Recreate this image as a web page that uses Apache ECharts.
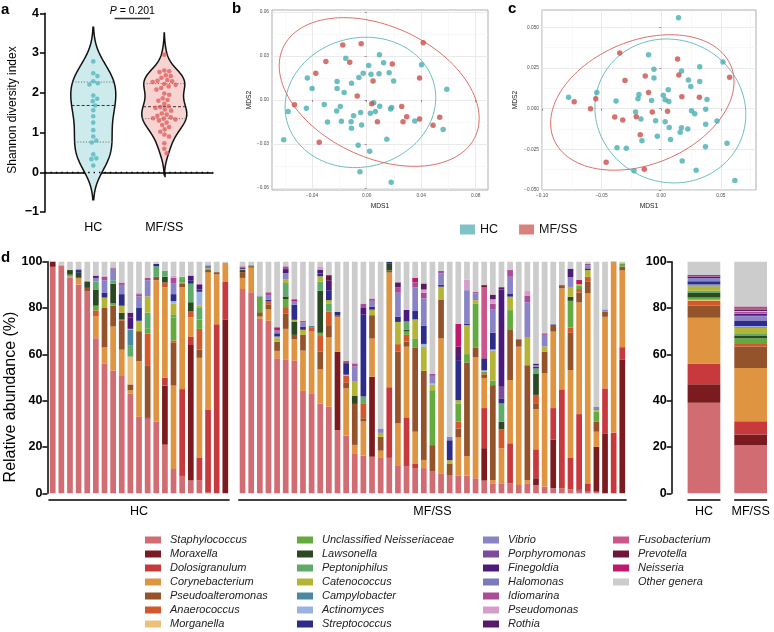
<!DOCTYPE html>
<html><head><meta charset="utf-8">
<script src="https://cdn.jsdelivr.net/npm/echarts@6/dist/echarts.min.js"></script>
<style>html,body{margin:0;padding:0;background:#fff}#c{width:774px;height:632px}</style>
</head><body><div id="c"></div>
<script>
// ---------------- DATA ----------------
const groupLabels = ['HC', 'MF/SS'];
// Panel a: Shannon diversity index per sample
const hcShannon = [2.79, 2.49, 2.42, 2.29, 2.24, 2.21, 1.93, 1.85, 1.79, 1.68, 1.56, 1.41, 1.25, 1.06, 0.90, 0.80, 0.75, 0.45, 0.35, 0.33, 0.17];
const mfShannon = [2.96, 2.56, 2.54, 2.52, 2.44, 2.42, 2.38, 2.32, 2.30, 2.29, 2.27, 2.22, 2.20, 2.16, 2.12, 2.08, 1.98, 1.95, 1.86, 1.82, 1.80, 1.72, 1.66, 1.64, 1.62, 1.58, 1.55, 1.48, 1.45, 1.42, 1.38, 1.36, 1.35, 1.33, 1.30, 1.25, 1.19, 1.14, 1.08, 1.02, 0.95, 0.90, 0.73, 0.59, 0.48];
const hcQuartiles = [0.76, 1.68, 2.27];
const mfQuartiles = [1.35, 1.65, 2.23];
const aTicksY = [-1, 0, 1, 2, 3, 4];
const pValueText = 'P = 0.201';

// Panel b: MDS coordinates
const mdsB_HC = [[-0.0153,0.0284],[0.0094,0.0309],[0.0124,0.0254],[0.0015,0.0236],[0.0403,0.0241],[-0.0435,0.0150],[-0.0025,0.0182],[-0.0057,0.0154],[0.0032,0.0175],[0.0091,0.0179],[0.0165,0.0186],[0.0198,0.0129],[-0.0217,0.0127],[-0.0111,0.0114],[-0.0217,0.0079],[-0.0400,0.0079],[-0.0165,0.0052],[0.0588,0.0073],[-0.0576,-0.0079],[-0.0442,-0.0057],[-0.0311,-0.0030],[-0.0193,-0.0045],[-0.0220,-0.0075],[0.0052,-0.0018],[0.0096,-0.0043],[0.0183,-0.0052],[0.0175,-0.0061],[-0.0044,-0.0086],[-0.0096,-0.0107],[0.0027,-0.0091],[0.0064,-0.0079],[-0.0287,-0.0150],[-0.0185,-0.0145],[-0.0114,-0.0148],[-0.0037,-0.0170],[-0.0111,-0.0193],[0.0353,-0.0143],[0.0561,-0.0202],[-0.0608,-0.0272],[0.0148,-0.0268],[-0.0062,-0.0309],[0.0022,-0.0350],[-0.0049,-0.0490],[0.0180,-0.0561]];
const mdsB_MF = [[-0.0175,0.0375],[-0.0040,0.0384],[0.0415,0.0390],[-0.0299,0.0263],[-0.0124,0.0257],[0.0188,0.0245],[-0.0373,0.0182],[0.0388,0.0150],[0.0047,0.0129],[-0.0069,0.0027],[-0.0529,-0.0032],[0.0037,-0.0025],[0.0257,-0.0045],[0.0294,-0.0114],[0.0267,-0.0148],[0.0079,-0.0148],[0.0388,-0.0129],[0.0536,-0.0118],[0.0487,-0.0173],[-0.0348,-0.0288]];
const bTicksX = [-0.04, 0, 0.04, 0.08];
const bTicksY = [-0.06, -0.03, 0, 0.03, 0.06];
const bMinorX = [-0.06, -0.02, 0.02, 0.06];
const bMinorY = [-0.045, -0.015, 0.015, 0.045];

// Panel c: MDS coordinates
const mdsC_HC = [[0.0145,0.0559],[-0.0106,0.0332],[0.0518,0.0287],[-0.0061,0.0242],[0.0170,0.0232],[0.0323,0.0258],[-0.0061,0.0189],[0.0228,0.0176],[0.0248,0.0137],[0.0323,0.0168],[-0.0777,0.0070],[-0.0540,0.0100],[-0.0379,0.0047],[-0.0187,0.0088],[-0.0195,0.0061],[-0.0081,0.0051],[0.0017,0.0082],[0.0059,0.0117],[0.0033,0.0055],[0.0064,0.0045],[0.0384,0.0057],[0.0373,-0.0004],[0.0254,-0.0012],[0.0281,-0.0031],[-0.0215,-0.0020],[-0.0170,-0.0064],[-0.0047,-0.0074],[0.0033,-0.0080],[0.0067,-0.0115],[0.0170,-0.0117],[0.0223,-0.0125],[0.0159,-0.0145],[0.0373,-0.0096],[0.0468,-0.0076],[-0.0033,-0.0170],[-0.0162,-0.0197],[0.0078,-0.0189],[-0.0371,-0.0240],[-0.0293,-0.0244],[0.0371,-0.0234],[0.0552,-0.0213],[0.0176,-0.0322],[-0.0228,-0.0381],[0.0293,-0.0379],[0.0618,-0.0441]];
const mdsC_MF = [[-0.0348,0.0342],[0.0137,0.0305],[-0.0304,0.0174],[-0.0134,0.0201],[0.0148,0.0207],[0.0574,0.0193],[-0.0730,0.0043],[-0.0549,0.0061],[-0.0593,0.0000],[-0.0106,0.0100],[-0.0390,-0.0051],[-0.0323,-0.0070],[-0.0209,-0.0049],[-0.0075,-0.0020],[0.0053,-0.0016],[0.0173,0.0074],[0.0320,0.0070],[-0.0176,-0.0160],[-0.0462,-0.0330],[-0.0142,-0.0373]];
const cTicksX = [-0.10, -0.05, 0, 0.05];
const cTicksY = [-0.05, -0.025, 0, 0.025, 0.05];
const cMinorX = [-0.075, -0.025, 0.025, 0.075];
const cMinorY = [-0.0375, -0.0125, 0.0125, 0.0375];

// Panel d: genera (stack order bottom -> top) and per-sample relative abundances (%)
const genusCodes = ['St','Mo','Do','Co','Ps','An','Mg','UN','La','Pe','Ca','Cb','Ac','Sr','Vi','Po','Fi','Ha','Id','Pm','Ro','Fu','Pr','Ne','Ot'];
const genusNames = ['Staphylococcus','Moraxella','Dolosigranulum','Corynebacterium','Pseudoalteromonas','Anaerococcus','Morganella','Unclassified Neisseriaceae','Lawsonella','Peptoniphilus','Catenococcus','Campylobacter','Actinomyces','Streptococcus','Vibrio','Porphyromonas','Finegoldia','Halomonas','Idiomarina','Pseudomonas','Rothia','Fusobacterium','Prevotella','Neisseria','Other genera'];
const genusColors = ['#d16c72','#7b1a1f','#c8393d','#df9441','#94532a','#d3592b','#ecbf7c','#63ab3f','#2b4a24','#5fac6a','#b4b537','#4b88a4','#98b2e1','#2d2c88','#8884c6','#7d4b9b','#4c1a7d','#7c7abd','#aa4c98','#d49ec9','#5a1969','#c9578b','#73163d','#c1176d','#cccccc'];
const hcSamples = [
 "St 97.8 Mo 2.2",
 "St 98.3 Co 0.4 Ot 1.3",
 "St 93 Co 0.6 UN 0.8 La 2 Ot 3.6",
 "St 90.2 Co 2.6 Ps 0.6 La 1.8 Sr 1.2 Vi 0.4 Ot 3.2",
 "St 87.2 Ps 1.5 La 2.6 Vi 0.4 Ot 8.3",
 "St 67 Co 9.5 An 2.5 UN 2 La 7 Pe 3.5 Vi 1.5 Fi 1 Ot 6",
 "St 56 Co 7 Ps 17 Ca 4.5 Sr 2 Vi 5.5 Id 1.5 Pm 0.5 Ot 6",
 "St 53 Co 19 Ps 9 UN 1 La 8.5 Pe 1.5 Vi 5 Id 0.5 Ot 2.5",
 "St 51 Co 11 Ps 12.5 An 0.5 La 3 Ca 3 Sr 5 Vi 4 Id 1 Ot 9",
 "St 43 Co 1.5 Ps 2.5 Mg 12 Pe 5 Cb 6.5 Ac 0.5 Fi 5 Ro 2 Ot 22",
 "St 33 Co 24 Ps 13 Ca 4.5 Sr 5.5 Vi 5 Id 1 Pm 0.5 Ot 13.5",
 "St 32.3 Mo 0.5 Ps 22.5 An 13.7 UN 2 Pe 7 Ca 7 Vi 7 Id 1 Ot 7",
 "St 31 Co 61 Ps 1.5 Pe 4.5 Sr 1 Ot 1",
 "St 21 Mo 25.5 Do 3.5 Co 39 An 2 La 2.5 Pe 2.5 Ot 4",
 "St 10.5 Co 36 Ps 18.5 An 1 UN 10 Pe 1 Ca 5 Ac 1 Sr 3 Vi 4.5 Id 2.5 Pm 1 Ot 6",
 "St 7.5 Do 37.5 Co 44 Ps 1.5 An 0.5 UN 1.5 Pe 0.5 Vi 0.5 Ot 6.5",
 "St 5.5 Mo 58.5 Do 3.5 Co 8.5 An 2.5 La 4 Pe 8 Sr 1.5 Fi 2 Ot 6",
 "St 5.5 Do 10 Co 43 Ps 3.5 An 9 UN 4 Pe 5 Ca 1 Ac 6 Sr 1 Fi 2 Id 0.5 Ot 9.5",
 "St 0.3 Do 35.7 Co 59.5 Ps 1 UN 0.5 Pe 0.5 Sr 0.5 Vi 0.5 Ot 1.5",
 "Do 73 Co 21.5 Ps 1 Ot 4.5",
 "Mo 75 Do 16.5 Co 8 Ot 0.5"
];
const mfSamples = [
 "St 88.2 Co 4.8 Ps 2.5 La 0.9 Ca 0.5 Fi 0.5 Id 0.6 Ot 2",
 "St 86.8 Co 10.6 Ps 0.6 La 0.4 Ot 1.6",
 "St 75.3 Co 1 Ps 1.9 UN 6.8 Vi 0.4 Ot 14.6",
 "St 74.5 Co 4.9 Ps 2.2 An 1.4 Sr 0.6 Vi 2 Id 1.2 Ot 13.2",
 "St 58.3 Co 3.2 Ps 3.9 Ca 1.6 Ac 0.7 Sr 1.4 Vi 1.2 Ne 1.4 Ot 28.3",
 "St 57.6 Co 13.4 Ps 6.5 An 2.9 UN 3.5 La 1.1 Pe 5.8 Ca 1.7 Vi 2.6 Fi 1.7 Id 1.2 Ot 2",
 "St 57.3 Co 9.2 Ps 1.9 La 5.8 Ca 0.7 Sr 6.5 Vi 1.4 Ne 1 Ot 16.2",
 "St 44.2 Co 17.4 Ps 6.8 Ca 2.2 Sr 1.4 Vi 1.7 Id 0.8 Ot 25.5",
 "St 43.2 Co 26.6 An 1.9 Cb 0.6 Ot 27.7",
 "St 38.8 Co 14.7 Ps 7.6 An 6.8 UN 1.4 La 18.1 Pe 3.9 Ca 2.4 Sr 1.2 Fi 1.7 Pm 1.4 Ot 2",
 "St 37.4 Co 29.9 Ps 5.3 An 5.8 Pe 3.6 Ca 1.4 Sr 4.3 Fi 4.3 Pr 2.2 Ot 5.8",
 "St 27.3 Mo 33.8 Co 15.1 Ps 0.7 Sr 1.4 Ot 21.7",
 "St 24.9 Co 20.4 Ps 2.4 An 3 Sr 5 Ac 0.5 Id 1 Ot 42.8",
 "St 17.3 Co 3.6 Ps 17.7 La 3.6 Ca 6 Vi 6.5 Id 1.4 Ot 43.9",
 "St 16.3 Co 14.7 Ps 1.4 An 6.5 Pe 2.9 Sr 35.3 Fi 2.9 Id 1.9 Ot 18.1",
 "St 15.8 Mo 34.5 Co 16.5 Ps 10.1 Ca 2.4 Sr 1.2 Vi 2.6 Id 1 Ot 15.9",
 "St 15.3 Co 3.1 Ps 6 Ca 1.7 Vi 1.9 Ot 72",
 "St 15.3 Do 30.5 Co 49.5 Ps 0.9 La 2.9 Sr 0.8 Ot 0.1",
 "St 11.8 Co 18.4 Ps 30.9 An 3.3 Ca 9.6 Sr 2.2 Vi 10.4 Id 2.3 Ro 2.2 Ot 8.9",
 "St 11.8 Do 21 Co 30.5 Ps 2.2 An 2.9 UN 1.5 La 0.7 Pe 3.6 Fi 5 Ot 20.8",
 "St 10.9 Do 2 Co 13.7 Ps 36.4 UN 3.9 Ca 8.2 Sr 3.6 Vi 10.2 Id 2.2 Ne 2 Ot 6.9",
 "St 10.9 Co 3.5 Ps 38.1 La 0.4 Ca 10.4 Ac 1.2 Sr 7.8 Vi 11.9 Id 2.4 Pm 1.4 Ro 2.6 Ot 9.4",
 "St 9.6 Ps 11.2 UN 23.7 Ca 2.4 Ac 0.5 Vi 3.3 Id 0.8 Ot 48.5",
 "St 8.6 Co 58.3 Ps 16.8 Ca 5.5 Sr 0.9 Vi 4.9 Id 1 Ot 4",
 "St 7.9 Ps 5 Ca 1.4 Sr 8.6 Vi 1.4 Ot 75.7",
 "St 7.6 Co 16.5 Ps 3.9 An 2.9 UN 7.9 Ca 1.4 Sr 17.3 Fi 2.2 Ro 3.6 Ne 9.8 Ot 26.9",
 "St 7.6 Co 8.5 Ps 40.4 UN 3.6 Ca 12.5 Sr 0.7 Vi 14.4 Pm 4.6 Ot 7.7",
 "St 6.5 Co 52.2 Ps 4.3 UN 19 Ca 1.4 Vi 2.9 Id 0.6 Ot 13.1",
 "St 5.5 Mo 14 Do 17.3 Co 13 Ps 1.4 An 0.7 UN 0.7 Ac 0.5 Sr 5.2 Fu 30.6 Pr 1 Ot 10.1",
 "St 4.3 Co 1.4 Ps 41 UN 2 Ca 12.9 Ac 0.5 Sr 7.2 Vi 10 Id 2.5 Pm 2 Ro 2 Ot 14.2",
 "St 4.3 Co 15.1 An 8.2 La 3.3 Pe 7.9 Sr 2.2 Po 5 Fi 42 Ro 1 Ot 11",
 "St 4.3 Do 17.3 Co 27.3 Ps 21.6 UN 8.6 Ca 5.8 Sr 1.4 Vi 7.2 Id 2.9 Ot 3.6",
 "St 3.6 Co 59.7 Ps 2.9 Vi 0.5 Ot 33.3",
 "St 4.3 Co 1.4 Ps 49.6 Ca 12.2 Vi 15 Id 2.9 Pm 2.2 Ot 12.4",
 "St 3.6 Mo 2.9 Do 12.5 Co 17.3 Ps 2.6 An 3.6 La 9 Pe 2.4 Sr 0.7 Vi 0.7 Fi 0.7 Ot 44",
 "St 2.9 Co 48.9 Ps 9.4 Ca 2.2 Vi 5 Id 0.7 Ot 30.9",
 "St 2.2 Mo 20.9 Do 13.7 Co 33 Ps 2.9 Vi 0.5 Ot 26.8",
 "St 2.2 Do 42.7 Co 43.6 Ps 1.4 Ot 10.1",
 "St 1.7 Do 13.8 Co 37.7 Ps 16.1 An 2.3 UN 11.5 La 1.7 Ca 4.3 Vi 4.3 Fi 3.6 Ot 3",
 "St 1.2 Mo 0.5 Do 32.5 Co 48.2 Ps 4.3 An 1.5 UN 1.4 Ca 0.7 Ne 1.9 Ot 7.8",
 "St 0.7 Do 3.6 Co 82 Ps 5 An 2.2 Ca 2.9 Sr 0.7 Vi 1.4 Id 0.7 Ot 0.8",
 "St 0.7 Mo 19.4 Co 6.5 Ps 4.3 UN 4.3 Ca 0.7 Vi 1.4 Ot 62.7",
 "Mo 25.9 Do 19.4 Co 30.9 Ps 2.2 Vi 1 Ot 20.6",
 "Do 26.2 Co 73.5 Ps 0.3",
 "Mo 57.6 Do 5.5 Co 33.1 Ps 1.7 UN 1.4 Ot 0.7"
];
const hcMean = "St 39.1 Mo 8 Do 8.9 Co 19.8 Ps 5.3 An 1.9 Mg 0.6 UN 0.9 La 2 Pe 1 Ca 1.9 Cb 0.4 Ac 0.4 Sr 1.4 Vi 1.4 Fi 0.5 Id 0.4 Ro 0.4 Ot 5.7";
const mfMean = "St 20.7 Mo 4.7 Do 5.7 Co 23 Ps 9.3 An 1.1 UN 2.4 La 1 Pe 0.9 Ca 2.7 Cb 0.3 Ac 0.4 Sr 2.2 Vi 2 Po 0.3 Fi 0.7 Ha 0.3 Id 0.7 Pm 0.3 Ro 0.4 Fu 0.7 Pr 0.3 Ne 0.6 Ot 19.3";
const dTicksY = [0, 20, 40, 60, 80, 100];

// ---------------- HELPERS ----------------
const FONT = 'Liberation Sans';
function parseSample(s) { const t = s.trim().split(/\s+/); const o = {}; for (let i = 0; i < t.length; i += 2) o[t[i]] = +t[i + 1]; return o; }
const hcParsed = hcSamples.map(parseSample), mfParsed = mfSamples.map(parseSample);
const hcMeanP = parseSample(hcMean), mfMeanP = parseSample(mfMean);
const categoriesD = hcSamples.map((_, i) => 'HC' + (i + 1)).concat(['gap'], mfSamples.map((_, i) => 'MF' + (i + 1)));
function valuesFor(code) { return hcParsed.map(o => o[code] || 0).concat(['-'], mfParsed.map(o => o[code] || 0)); }
const minus = s => String(s).replace('-', '\u2212');

function stats(v) { const n = v.length, m = v.reduce((a, b) => a + b, 0) / n; const sd = Math.sqrt(v.reduce((a, b) => a + (b - m) * (b - m), 0) / (n - 1)); return { n, m, sd }; }
function bandwidth(v, iqr) { const s = stats(v); return 0.9 * Math.min(s.sd, iqr / 1.34) * Math.pow(s.n, -0.2); }
function kde(v, h, y) { let s = 0; for (const x of v) { const z = (y - x) / h; s += Math.exp(-0.5 * z * z); } return s / (v.length * h); }

// robust multivariate-t covariance (as MASS::cov.trob, nu = 5), used by ggplot2 stat_ellipse(type = "t")
function covTrob(pts, nu) {
  const n = pts.length, p = 2;
  let loc = [pts.reduce((a, q) => a + q[0], 0) / n, pts.reduce((a, q) => a + q[1], 0) / n];
  let w = pts.map(() => 1), X = [];
  for (let it = 0; it < 200; it++) {
    const w0 = w.slice();
    X = pts.map(q => [q[0] - loc[0], q[1] - loc[1]]);
    const sw = w.reduce((a, b) => a + b, 0);
    let sxx = 0, syy = 0, sxy = 0;
    X.forEach((d, i) => { sxx += w[i] * d[0] * d[0]; syy += w[i] * d[1] * d[1]; sxy += w[i] * d[0] * d[1]; });
    sxx /= sw; syy /= sw; sxy /= sw;
    const det = sxx * syy - sxy * sxy;
    const Q = X.map(d => (syy * d[0] * d[0] - 2 * sxy * d[0] * d[1] + sxx * d[1] * d[1]) / det);
    w = Q.map(q => (nu + p) / (nu + q));
    const sw2 = w.reduce((a, b) => a + b, 0);
    loc = [pts.reduce((a, q, i) => a + w[i] * q[0], 0) / sw2, pts.reduce((a, q, i) => a + w[i] * q[1], 0) / sw2];
    if (w.every((v, i) => Math.abs(v - w0[i]) < 1e-6)) break;
  }
  let sxx = 0, syy = 0, sxy = 0;
  X.forEach((d, i) => { sxx += w[i] * d[0] * d[0]; syy += w[i] * d[1] * d[1]; sxy += w[i] * d[0] * d[1]; });
  return { center: loc, sxx: sxx / n, syy: syy / n, sxy: sxy / n };
}
function ellipse(pts, level) {
  const n = pts.length; const cv = covTrob(pts, 5);
  const m = n - 1; const q = (m / 2) * (Math.pow(1 - level, -2 / m) - 1); const r = Math.sqrt(2 * q);
  const a = Math.sqrt(cv.sxx), b = cv.sxy / a, c = Math.sqrt(cv.syy - b * b);
  const out = []; for (let i = 0; i <= 120; i++) { const t = 2 * Math.PI * i / 120; out.push([cv.center[0] + r * a * Math.cos(t), cv.center[1] + r * (b * Math.cos(t) + c * Math.sin(t))]); }
  return out;
}

// panel a geometry
const A = { left: 45, top: 13.3, width: 168, height: 198.7, xmin: 0.32, xmax: 2.686, ymin: -1, ymax: 4 };
const sxA = A.width / (A.xmax - A.xmin), syA = A.height / (A.ymax - A.ymin);
function swarm(vals, cx, d) {
  const placed = [], res = new Array(vals.length);
  const order = vals.map((v, i) => i).sort((a, b) => vals[b] - vals[a]);
  for (const i of order) {
    const y = vals[i] * syA; const near = placed.filter(p => Math.abs(p.y - y) < d);
    const cands = [0]; near.forEach(p => { const dx = Math.sqrt(d * d - (p.y - y) ** 2); cands.push(p.x + dx + 0.01, p.x - dx - 0.01); });
    cands.sort((a, b) => Math.abs(a) - Math.abs(b));
    let x = 0; for (const c of cands) { if (near.every(p => (p.x - c) ** 2 + (p.y - y) ** 2 >= d * d - 0.01)) { x = c; break; } }
    placed.push({ x, y }); res[i] = [cx + x / sxA, vals[i]];
  }
  return res;
}
const violinGroups = [
  { x: 1, vals: hcShannon, q: hcQuartiles, fill: '#cdebed' },
  { x: 2, vals: mfShannon, q: mfQuartiles, fill: '#f7d4d2' }
];
const VIOLIN_HALF = 0.317;

function renderViolin(params, api) {
  const g = violinGroups[params.dataIndex];
  const h = bandwidth(g.vals, g.q[2] - g.q[0]);
  const lo = Math.min(...g.vals) - 2.2 * h, hi = Math.max(...g.vals) + 2.2 * h;
  const N = 160, ys = [], ds = [];
  for (let i = 0; i <= N; i++) { const y = lo + (hi - lo) * i / N; ys.push(y); ds.push(kde(g.vals, h, y)); }
  const dmax = Math.max(...ds);
  const right = [], left = [];
  ys.forEach((y, i) => { const w = VIOLIN_HALF * ds[i] / dmax; right.push(api.coord([g.x + w, y])); left.push(api.coord([g.x - w, y])); });
  const children = [{ type: 'polygon', shape: { points: right.concat(left.reverse()) }, style: { fill: g.fill, stroke: '#111', lineWidth: 1.5 } }];
  g.q.forEach((q, k) => {
    const w = VIOLIN_HALF * kde(g.vals, h, q) / dmax;
    const p1 = api.coord([g.x - w, q]), p2 = api.coord([g.x + w, q]);
    children.push({ type: 'line', shape: { x1: p1[0], y1: p1[1], x2: p2[0], y2: p2[1] }, style: k === 1 ? { stroke: '#333', lineWidth: 1, lineDash: [3, 2] } : { stroke: '#777', lineWidth: 1, lineDash: [1.2, 1.6] } });
  });
  return { type: 'group', children };
}

// ---------------- OPTION ----------------
const TEAL = '#49aeb3', RED = '#cc4f48';
const ggAxisLabel = { fontSize: 4.8, color: '#4d4d4d', margin: 3, fontFamily: FONT };
function ggX(grid, min, max, ticks, fmt, name) {
  return { gridIndex: grid, type: 'value', min, max, axisLine: { show: false },
    axisTick: { show: true, customValues: ticks, length: 2, lineStyle: { color: '#555', width: 0.6 } },
    axisLabel: Object.assign({ customValues: ticks, formatter: fmt }, ggAxisLabel),
    splitLine: { show: true, lineStyle: { color: '#e4e4e4', width: 0.8 } },
    name, nameLocation: 'middle', nameGap: 13, nameTextStyle: { fontSize: 6.7, color: '#222', fontFamily: FONT } };
}
function ggMinor(grid, min, max, ticks) {
  return { gridIndex: grid, type: 'value', min, max, axisLine: { show: false }, axisTick: { show: false, customValues: ticks },
    axisLabel: { show: false, customValues: ticks }, splitLine: { show: true, lineStyle: { color: '#f1f1f1', width: 0.5 } } };
}
const fmt2 = v => minus(v.toFixed(2));
const fmt3 = v => minus(v.toFixed(3));
const boldAxis = { axisLine: { show: true, lineStyle: { color: '#000', width: 1.5 } }, axisTick: { show: true, length: 5, lineStyle: { color: '#000', width: 1.5 } } };

const series = [];
series.push({ type: 'custom', name: 'violins', xAxisIndex: 0, yAxisIndex: 0, data: [[1, 0], [2, 0]], renderItem: renderViolin, clip: false, silent: true, z: 2 });
series.push({ type: 'scatter', name: 'HC points', xAxisIndex: 0, yAxisIndex: 0, data: swarm(hcShannon, 1, 5), symbolSize: 4.6, itemStyle: { color: '#52b9bd' }, z: 3,
  markLine: { silent: true, symbol: ['none', 'none'], label: { show: false }, lineStyle: { color: '#000', type: [1.4, 4], width: 1.3 }, data: [{ yAxis: 0 }] } });
series.push({ type: 'scatter', name: 'MF/SS points', xAxisIndex: 0, yAxisIndex: 0, data: swarm(mfShannon, 2, 5), symbolSize: 4.6, itemStyle: { color: '#e0605f' }, z: 3 });

[[mdsB_HC, mdsB_MF, 1], [mdsC_HC, mdsC_MF, 3]].forEach(([hc, mf, ax]) => {
  series.push({ type: 'line', name: 'HC ellipse' + ax, xAxisIndex: ax, yAxisIndex: ax, data: ellipse(hc, 0.95), showSymbol: false, symbol: 'none', lineStyle: { color: '#5cb6ba', width: 0.9 }, silent: true, z: 2 });
  series.push({ type: 'line', name: 'MF ellipse' + ax, xAxisIndex: ax, yAxisIndex: ax, data: ellipse(mf, 0.95), showSymbol: false, symbol: 'none', lineStyle: { color: '#d8605a', width: 0.9 }, silent: true, z: 2 });
  series.push({ type: 'scatter', name: 'HC', xAxisIndex: ax, yAxisIndex: ax, data: hc, symbolSize: 5.5, itemStyle: { color: TEAL }, z: 3 });
  series.push({ type: 'scatter', name: 'MF/SS', xAxisIndex: ax, yAxisIndex: ax, data: mf, symbolSize: 5.5, itemStyle: { color: RED }, z: 3 });
});

genusCodes.forEach((code, i) => {
  series.push({ type: 'bar', name: genusNames[i], stack: 'd', xAxisIndex: 5, yAxisIndex: 5, data: valuesFor(code), barWidth: 5.7, itemStyle: { color: genusColors[i] }, silent: true });
  series.push({ type: 'bar', name: genusNames[i], stack: 's', xAxisIndex: 6, yAxisIndex: 6, data: [hcMeanP[code] || 0, mfMeanP[code] || 0], barWidth: 32.7, itemStyle: { color: genusColors[i] }, silent: true });
});

const legendText = { fontFamily: FONT, fontSize: 11, fontStyle: 'italic', color: '#222', lineHeight: 12, padding: [0, 0, 0, 4] };
function genusLegend(left, from, to) {
  return { orient: 'vertical', left, top: 534, padding: 0, itemGap: 2, itemWidth: 16, itemHeight: 7, icon: 'rect', selectedMode: false,
    textStyle: legendText, data: genusNames.slice(from, to) };
}

const option = {
  animation: false,
  textStyle: { fontFamily: FONT },
  grid: [
    { left: A.left, top: A.top, width: A.width, height: A.height },
    { left: 272, top: 10, width: 216, height: 180, show: true, borderColor: '#9a9a9a', borderWidth: 0.8, backgroundColor: '#fff' },
    { left: 542, top: 10, width: 214, height: 180, show: true, borderColor: '#9a9a9a', borderWidth: 0.8, backgroundColor: '#fff' },
    { left: 48.4, top: 261.7, width: 578.2, height: 231.6 },
    { left: 680.6, top: 261.7, width: 99, height: 231.6 }
  ],
  xAxis: [
    Object.assign({ gridIndex: 0, type: 'value', min: A.xmin, max: A.xmax, splitLine: { show: false },
      axisLabel: { customValues: [1, 2], formatter: v => groupLabels[Math.round(v) - 1], color: '#000', fontSize: 12.5, margin: 9, fontFamily: FONT } },
      { axisLine: boldAxis.axisLine, axisTick: Object.assign({ customValues: [1, 2] }, boldAxis.axisTick) }),
    ggX(1, -0.0694, 0.089, bTicksX, fmt2, 'MDS1'),
    ggMinor(1, -0.0694, 0.089, bMinorX),
    ggX(2, -0.10, 0.0795, cTicksX, fmt2, 'MDS1'),
    ggMinor(2, -0.10, 0.0795, cMinorX),
    { gridIndex: 3, type: 'category', data: categoriesD, show: false },
    { gridIndex: 4, type: 'category', data: groupLabels, show: false }
  ],
  yAxis: [
    Object.assign({ gridIndex: 0, type: 'value', min: A.ymin, max: A.ymax, interval: 1, splitLine: { show: false },
      axisLabel: { fontWeight: 'bold', fontSize: 12.5, color: '#000', margin: 6, formatter: v => minus(v), fontFamily: FONT } }, boldAxis),
    Object.assign(ggX(1, -0.0614, 0.0614, bTicksY, fmt2, 'MDS2'), { nameGap: 19, nameRotate: 90 }),
    ggMinor(1, -0.0614, 0.0614, bMinorY),
    Object.assign(ggX(2, -0.05, 0.0607, cTicksY, fmt3, 'MDS2'), { nameGap: 23, nameRotate: 90 }),
    ggMinor(2, -0.05, 0.0607, cMinorY),
    Object.assign({ gridIndex: 3, type: 'value', min: 0, max: 100, interval: 20, offset: 1, splitLine: { show: false },
      axisLabel: { fontWeight: 'bold', fontSize: 12.5, color: '#000', margin: 5, fontFamily: FONT } }, boldAxis),
    Object.assign({ gridIndex: 4, type: 'value', min: 0, max: 100, interval: 20, offset: 9, splitLine: { show: false },
      axisLabel: { fontWeight: 'bold', fontSize: 12.5, color: '#000', margin: 5, fontFamily: FONT } }, boldAxis)
  ],
  legend: [
    { left: 460, top: 223, padding: 0, itemWidth: 15, itemHeight: 10, itemGap: 21, icon: 'rect', selectedMode: false,
      textStyle: { fontFamily: FONT, fontSize: 12.5, color: '#111' },
      data: [{ name: 'HC', itemStyle: { color: '#62b3b8' } }, { name: 'MF/SS', itemStyle: { color: '#d0625c' } }] },
    genusLegend(145, 0, 7), genusLegend(297, 7, 14), genusLegend(483, 14, 21), genusLegend(613, 21, 25)
  ],
  series
};

const chart = echarts.init(document.getElementById('c'), null, { renderer: 'canvas' });
chart.setOption(option);

// ---------- annotations (positions from the axes) ----------
const px = (xi, v) => chart.convertToPixel({ xAxisIndex: xi }, v);
const band = px(5, categoriesD[1]) - px(5, categoriesD[0]);
const hcL = px(5, categoriesD[0]) - band / 2, hcR = px(5, categoriesD[hcSamples.length - 1]) + band / 2;
const mfL = px(5, categoriesD[hcSamples.length + 1]) - band / 2, mfR = px(5, categoriesD[categoriesD.length - 1]) + band / 2;
const sHC = px(6, 'HC'), sMF = px(6, 'MF/SS');
const yBr = 500, yLab = 512;
const txt = (x, y, text, style) => ({ type: 'text', x, y, style: Object.assign({ text, fontFamily: FONT, fill: '#000' }, style) });
const ln = (x1, y1, x2, y2, w) => ({ type: 'line', shape: { x1, y1, x2, y2 }, style: { stroke: '#000', lineWidth: w || 1.5 } });
const P1 = chart.convertToPixel({ xAxisIndex: 0, yAxisIndex: 0 }, [1.3, 3.87]);
const P2 = chart.convertToPixel({ xAxisIndex: 0, yAxisIndex: 0 }, [1.8, 3.87]);
const graphic = [
  txt(1, 2, 'a', { fontSize: 15, fontWeight: 'bold' }),
  txt(232, 1, 'b', { fontSize: 15, fontWeight: 'bold' }),
  txt(508, 1, 'c', { fontSize: 15, fontWeight: 'bold' }),
  txt(1, 250, 'd', { fontSize: 15, fontWeight: 'bold' }),
  { type: 'text', x: (P1[0] + P2[0]) / 2, y: P1[1] - 7, style: { text: '{i|P} = 0.201', fontFamily: FONT, fontSize: 10.5, fill: '#000', align: 'center', verticalAlign: 'middle', rich: { i: { fontStyle: 'italic', fontSize: 10.5, fontFamily: FONT } } } },
  { type: 'line', shape: { x1: P1[0], y1: P1[1], x2: P2[0], y2: P2[1] }, style: { stroke: '#333', lineWidth: 1.5 } },
  { type: 'text', x: 13, y: 110, rotation: Math.PI / 2, style: { text: 'Shannon diversity index', fontFamily: FONT, fontSize: 12, fill: '#000', align: 'center', verticalAlign: 'middle' } },
  { type: 'text', x: 11, y: 397, rotation: Math.PI / 2, style: { text: 'Relative abundance (%)', fontFamily: FONT, fontSize: 16, fill: '#000', align: 'center', verticalAlign: 'middle' } },
  ln(hcL, yBr, hcR, yBr), ln(mfL, yBr, mfR, yBr),
  txt((hcL + hcR) / 2, yLab, 'HC', { fontSize: 12.5, align: 'center', verticalAlign: 'middle' }),
  txt((mfL + mfR) / 2, yLab, 'MF/SS', { fontSize: 12.5, align: 'center', verticalAlign: 'middle' }),
  ln(sHC - 16.5, yBr, sHC + 16.5, yBr), ln(sMF - 16.5, yBr, sMF + 16.5, yBr),
  txt(sHC, yLab, 'HC', { fontSize: 12.5, align: 'center', verticalAlign: 'middle' }),
  txt(sMF, yLab, 'MF/SS', { fontSize: 12.5, align: 'center', verticalAlign: 'middle' })
];
chart.setOption({ graphic });
</script></body></html>
